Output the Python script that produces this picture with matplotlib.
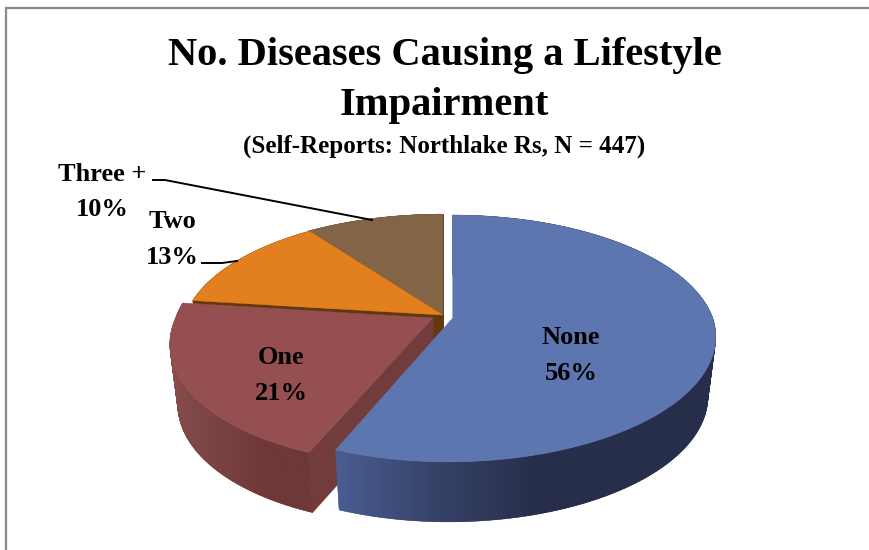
import numpy as np
import matplotlib
matplotlib.use("Agg")
import matplotlib.pyplot as plt
from matplotlib.patches import Polygon
from matplotlib.collections import PolyCollection
from matplotlib.colors import LinearSegmentedColormap

categories = ["None", "One", "Two", "Three +"]
values = [56, 21, 13, 10]
title_lines = ["No. Diseases Causing a Lifestyle", "Impairment"]
subtitle = "(Self-Reports: Northlake Rs, N = 447)"

top_colors = ["#5e76b0", "#964f50", "#e28020", "#826546"]
side_ramps = [["#4a5d92", "#364268", "#272e4a", "#272e4a"],
              ["#874c4c", "#7a4343", "#6e3838", "#6e3838"],
              ["#63380a", "#63380a"],
              ["#5c4630", "#5c4630"]]
cut_colors = [None, "#723c3c", "#63380a", "#63380a"]
apexes = [(452.7, 318), (433, 318), (443, 315), (443, 315)]
shears = [-0.03, -0.09, 0.0, 0.0]
xscales = [1.0, 0.99, 0.99, 1.0]
yscales = [1.0, 1.02, 0.98, 0.98]
ramp_x = [(336, 640), (170, 315), (180, 440), (300, 445)]
label_xy = [(571, 355), (281, 375), (172, 239), (102, 192)]

A, K, P, DEPTH = 260.0, 120.0, 0.166, 60.0
XSHRINK = 0.97

fig = plt.figure(figsize=(8.69, 5.5), dpi=100, facecolor="white")
ax = fig.add_axes([0, 0, 1, 1])
ax.axis("off")


def project(t, i):
    """Perspective map of clockwise pie angle t (radians from 12 o'clock)."""
    u, v = np.sin(t), np.cos(t)
    den = 1 + P * v
    dx, dy = A * u / den * xscales[i], -K * v / den * yscales[i]
    dx = dx + shears[i] * np.maximum(dy, 0)
    return dx, dy


frac = np.cumsum([0] + values) / sum(values) * 2 * np.pi
xs = np.arange(0, 870)

for i in [3, 2, 1, 0]:
    t = np.linspace(frac[i], frac[i + 1], 200)
    dx, dy = project(t, i)
    ax0, ay0 = apexes[i]
    ux, uy = ax0 + dx, ay0 + dy
    lx, ly = ax0 + dx * XSHRINK, ay0 + dy + DEPTH
    z = 2 + (3 - i) * 2

    # cut faces towards the viewer
    if cut_colors[i] is not None:
        for k in ([0] if i == 1 else [-1, 0]):
            ax.add_patch(Polygon([(ax0, ay0), (ax0, ay0 + DEPTH), (lx[k], ly[k]), (ux[k], uy[k])],
                                 closed=True, fc=cut_colors[i], ec=cut_colors[i], lw=0.4, zorder=z))
    # curved outer wall, shaded along x
    cmap = LinearSegmentedColormap.from_list("w", side_ramps[i])
    x0, x1 = ramp_x[i]
    quads = [[(ux[j], uy[j]), (ux[j + 1], uy[j + 1]), (lx[j + 1], ly[j + 1]), (lx[j], ly[j])]
             for j in range(len(t) - 1)]
    cols = [cmap(np.clip((0.5 * (ux[j] + ux[j + 1]) - x0) / (x1 - x0), 0, 1)) for j in range(len(t) - 1)]
    ax.add_collection(PolyCollection(quads, facecolors=cols, edgecolors=cols, linewidths=0.3, zorder=z))
    wall = Polygon(list(zip(ux, uy)) + list(zip(lx[::-1], ly[::-1])), closed=True, transform=ax.transData,
                   fc="none", ec="none")
    ax.add_patch(wall)
    shade = np.clip((xs - x0) / (x1 - x0), 0, 1).reshape(1, -1)
    im = ax.imshow(shade, cmap=cmap, vmin=0, vmax=1, aspect="auto", extent=(0, 869, 550, 0),
                   interpolation="bilinear", zorder=z)
    im.set_clip_path(wall)
    # top surface
    pts = [(ax0, ay0)] + list(zip(ux, uy))
    ax.add_patch(Polygon(pts, closed=True, fc=top_colors[i], ec=top_colors[i], lw=0.3, zorder=z + 1))

ax.set_xlim(0, 869)
ax.set_ylim(550, 0)

serif = "Liberation Serif"
for y, line in zip([55, 105], title_lines):
    ax.text(444.5, y, line, ha="center", va="center", family=serif, weight="bold", fontsize=29.2, color="black", zorder=20)
ax.text(444, 146, subtitle, ha="center", va="center", family=serif, weight="bold", fontsize=18, color="black", zorder=20)

for (x, y), name, val in zip(label_xy, categories, values):
    ax.text(x, y - 17.5, name, ha="center", va="center", family=serif, weight="bold", fontsize=19, color="black", zorder=20)
    ax.text(x, y + 18, f"{val}%", ha="center", va="center", family=serif, weight="bold", fontsize=19, color="black", zorder=20)

ax.plot([153, 165, 372], [180, 180, 220], color="black", lw=1.4, zorder=19, solid_joinstyle="round")
ax.plot([202, 222, 237], [263, 263, 261], color="black", lw=1.4, zorder=19, solid_joinstyle="round")

ax.plot([6, 6, 869], [550, 8, 8], color="#8a8a8a", lw=1.6, zorder=1, solid_joinstyle="miter")

fig.savefig("out.png", dpi=100, facecolor="white")
